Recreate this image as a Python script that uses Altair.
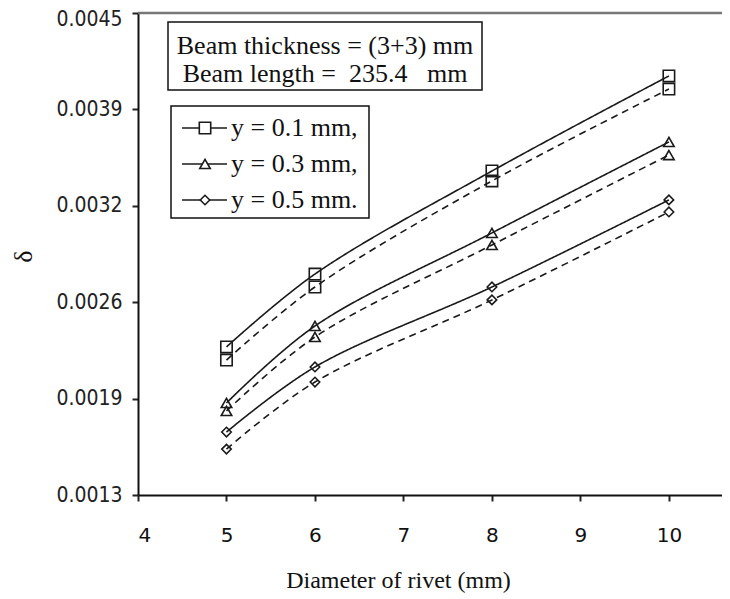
import altair as alt
import pandas as pd

# ---- data ----
diameters = [5, 6, 8, 10]
series_labels = ["y = 0.1 mm,", "y = 0.3 mm,", "y = 0.5 mm."]
series_shapes = ["square", "triangle-up", "diamond"]

solid_y01 = [0.002283, 0.002767, 0.003451, 0.004082]
dashed_y01 = [0.002196, 0.002681, 0.003385, 0.003995]
solid_y03 = [0.001911, 0.002422, 0.003040, 0.003644]
dashed_y03 = [0.001858, 0.002349, 0.002960, 0.003557]
solid_y05 = [0.001718, 0.002150, 0.002681, 0.003259]
dashed_y05 = [0.001605, 0.002050, 0.002595, 0.003179]

y_tick_values = [0.0013, 0.00194, 0.00258, 0.00322, 0.00386, 0.0045]
x_tick_values = [4, 5, 6, 7, 8, 9, 10]

info_line1 = "Beam thickness = (3+3) mm"
info_line2 = "Beam length =\u00a0\u00a0235.4\u00a0\u00a0\u00a0mm"

# ---- table ----
rows = []
for label, solid, dashed in zip(series_labels,
                                [solid_y01, solid_y03, solid_y05],
                                [dashed_y01, dashed_y03, dashed_y05]):
    for d, s, ds in zip(diameters, solid, dashed):
        rows.append({"diam": d, "value": s, "series": label, "style": "solid", "key": label + "s"})
        rows.append({"diam": d, "value": ds, "series": label, "style": "dashed", "key": label + "d"})
df = pd.DataFrame(rows)

W, H = 584, 482
SERIF = "Liberation Serif"

x_enc = alt.X("diam:Q",
              scale=alt.Scale(domain=[4, 10.6], nice=False, zero=False),
              axis=alt.Axis(values=x_tick_values, format="d", grid=False,
                            labelFont="DejaVu Sans", labelFontSize=20, labelColor="#111",
                            labelPadding=24, tickSize=6, tickWidth=2, tickColor="#222",
                            domainColor="#111", domainWidth=2,
                            title="Diameter of rivet (mm)", titleFont=SERIF,
                            titleFontSize=24, titleFontWeight="normal", titleColor="#111",
                            titleX=260, titleY=85, titleBaseline="middle"))
y_enc = alt.Y("value:Q",
              scale=alt.Scale(domain=[0.0013, 0.0045], nice=False, zero=False),
              axis=alt.Axis(values=y_tick_values, format=".4f", grid=False,
                            labelFont="DejaVu Sans Condensed, DejaVu Sans", labelFontSize=21,
                            labelColor="#222", labelPadding=10,
                            labelOffset={"condition": {"test": "datum.value > 0.0044", "value": 6}, "value": 0},
                            tickSize=6, tickWidth=2, tickColor="#222",
                            domainColor="#111", domainWidth=2,
                            title="δ", titleFont=SERIF, titleFontSize=26,
                            titleFontWeight="normal", titleColor="#111",
                            titleAngle=-90, titleBaseline="middle", titleAlign="center",
                            titleX=-115, titleY=243))

base = alt.Chart(df)

lines = base.mark_line(interpolate="catmull-rom", color="#1a1a1a", strokeWidth=1.6).encode(
    x=x_enc, y=y_enc, detail="key:N",
    strokeDash=alt.StrokeDash("style:N",
                              scale=alt.Scale(domain=["solid", "dashed"], range=[[1, 0], [7, 5]]),
                              legend=None),
)

point_layers = []
for label, shp, sz in zip(series_labels, series_shapes, [130, 110, 90]):
    point_layers.append(
        base.transform_filter(alt.datum.series == label)
        .mark_point(shape=shp, filled=False, color="#1a1a1a", strokeWidth=1.6, size=sz, opacity=1)
        .encode(x="diam:Q", y="value:Q")
    )

one = pd.DataFrame({"k": [0]})

# top border of plot
top_border = alt.Chart(one).mark_rule(color="#777", strokeWidth=2.5).encode(
    x=alt.value(0), x2=alt.value(W), y=alt.value(0))

# info box
box1 = alt.Chart(one).mark_rect(fill="white", stroke="#111", strokeWidth=1.5).encode(
    x=alt.value(30), x2=alt.value(344), y=alt.value(9), y2=alt.value(77))
t1 = alt.Chart(one).mark_text(font=SERIF, fontSize=26, align="center", baseline="middle", color="#111").encode(
    x=alt.value(187), y=alt.value(33), text=alt.value(info_line1))
t2 = alt.Chart(one).mark_text(font=SERIF, fontSize=26, align="center", baseline="middle", color="#111").encode(
    x=alt.value(187), y=alt.value(61), text=alt.value(info_line2))

# legend box
box2 = alt.Chart(one).mark_rect(fill="white", stroke="#111", strokeWidth=1.5).encode(
    x=alt.value(33), x2=alt.value(231), y=alt.value(93), y2=alt.value(205))
legend_layers = [box2]
for i, (label, shp, sz) in enumerate(zip(series_labels, series_shapes, [130, 110, 90])):
    yy = 115 + 36 * i
    legend_layers.append(alt.Chart(one).mark_rule(color="#1a1a1a", strokeWidth=1.6).encode(
        x=alt.value(44), x2=alt.value(89), y=alt.value(yy)))
    legend_layers.append(alt.Chart(one).mark_point(shape=shp, filled=True, fill="white", stroke="#1a1a1a",
                                                   strokeWidth=1.6, size=sz, opacity=1).encode(
        x=alt.value(67), y=alt.value(yy)))
    legend_layers.append(alt.Chart(one).mark_text(font=SERIF, fontSize=26, align="left", baseline="middle",
                                                  color="#111").encode(
        x=alt.value(93), y=alt.value(yy), text=alt.value(label)))

chart = alt.layer(lines, *point_layers, top_border, box1, t1, t2, *legend_layers).properties(
    width=W, height=H,
    autosize=alt.AutoSizeParams(type="none"),
    padding={"left": 130, "top": 5, "right": 0, "bottom": 100},
    background="white",
).configure_view(stroke=None)

chart.save("out.html", embed_options={"renderer": "svg", "actions": False})
